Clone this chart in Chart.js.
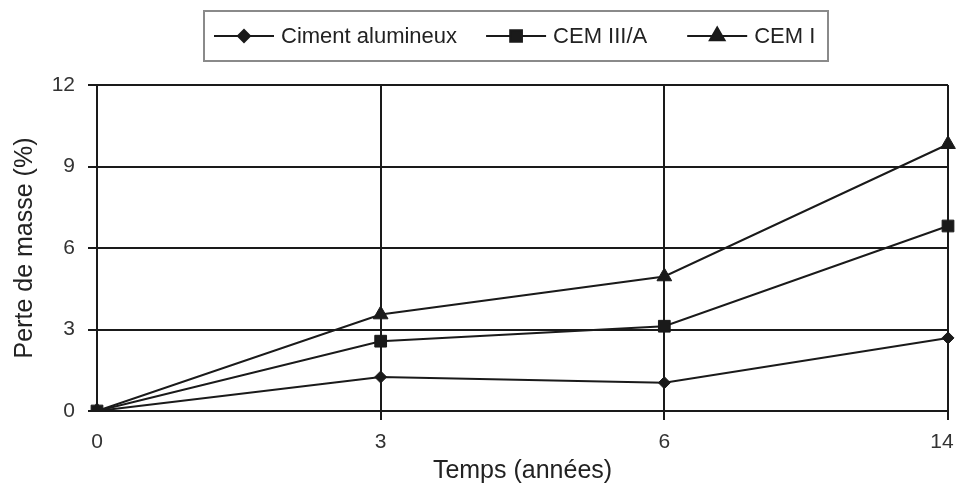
<!DOCTYPE html>
<html>
<head>
<meta charset="utf-8">
<script src="https://cdn.jsdelivr.net/npm/chart.js@4"></script>
<style>
html,body{margin:0;padding:0;background:#fff;}
#wrap{position:relative;width:957px;height:488px;}
</style>
</head>
<body>
<div id="wrap"><canvas id="c" width="957" height="488"></canvas></div>
<script>
const categories = ['0', '3', '6', '14'];
const cimentAlumineux = [0, 1.25, 1.04, 2.69];
const cemIIIA = [0, 2.57, 3.12, 6.81];
const cemI = [0, 3.55, 4.95, 9.82];
const yTicks = [0, 3, 6, 9, 12];
const seriesNames = ['Ciment alumineux', 'CEM III/A', 'CEM I'];
const xTitle = 'Temps (années)';
const yTitle = 'Perte de masse (%)';

const FONT = '"Liberation Sans", Arial, sans-serif';
const INK = '#1a1a1a';

const legendPlugin = {
  id: 'boxLegend',
  afterDraw(chart) {
    const ctx = chart.ctx;
    ctx.save();
    ctx.strokeStyle = '#8a8a8a';
    ctx.lineWidth = 2;
    ctx.strokeRect(204, 11, 624, 50);
    ctx.font = '22px ' + FONT;
    ctx.textBaseline = 'middle';
    let x = 214;
    const y = 36;
    chart.data.datasets.forEach((ds, i) => {
      ctx.strokeStyle = ds.borderColor;
      ctx.fillStyle = ds.borderColor;
      ctx.lineWidth = 2;
      ctx.beginPath();
      ctx.moveTo(x, y);
      ctx.lineTo(x + 60, y);
      ctx.stroke();
      Chart.helpers.drawPoint(ctx, {
        pointStyle: ds.pointStyle,
        radius: ds.pointRadius,
        rotation: 0,
        borderWidth: 1
      }, x + 30, y);
      ctx.fillStyle = '#222';
      ctx.fillText(ds.label, x + 67, y + 1);
      const w = ctx.measureText(ds.label).width;
      x += 67 + w + (i === 0 ? 29 : 40);
    });
    ctx.restore();
  }
};
// keep the last x label inside the canvas (as in the reference)
const shiftLastLabel = {
  id: 'shiftLastLabel',
  beforeDraw(chart) {
    const s = chart.scales.x;
    const items = s.getLabelItems();
    const last = items[items.length - 1];
    if (last && !last._shifted) {
      last.options.translation = [last.options.translation[0] - 6, last.options.translation[1]];
      last._shifted = true;
    }
  }
};
Chart.register(legendPlugin, shiftLastLabel);

const mkDs = (label, data, style, r) => ({
  label, data,
  borderColor: INK,
  backgroundColor: INK,
  borderWidth: 2,
  pointStyle: style,
  pointRadius: r,
  pointHoverRadius: r,
  pointBackgroundColor: INK,
  pointBorderColor: INK,
  pointBorderWidth: 1,
  tension: 0,
  fill: false
});

new Chart(document.getElementById('c'), {
  type: 'line',
  data: {
    labels: categories,
    datasets: [
      mkDs(seriesNames[0], cimentAlumineux, 'rectRot', 6),
      mkDs(seriesNames[1], cemIIIA, 'rect', 8.3),
      mkDs(seriesNames[2], cemI, 'triangle', 8.5)
    ]
  },
  options: {
    responsive: false,
    animation: false,
    devicePixelRatio: 1,
    layout: { autoPadding: false, padding: { top: 85, right: 9, left: 0, bottom: 0 } },
    plugins: { legend: { display: false }, tooltip: { enabled: false } },
    scales: {
      x: {
        type: 'category',
        offset: false,
        grid: {
          color: INK, lineWidth: 2, tickLength: 9,
          tickColor: (c) => (c.index === 0 ? 'rgba(0,0,0,0)' : INK)
        },
        border: { color: INK, width: 2 },
        ticks: { color: '#333', font: { family: FONT, size: 21 }, padding: 10, maxRotation: 0, autoSkip: false },
        title: { display: true, text: xTitle, color: '#222', font: { family: FONT, size: 25 }, padding: { top: 0, bottom: 2 } },
        afterFit: (s) => { s.height = 77; s.paddingLeft = 0; s.paddingRight = 0; }
      },
      y: {
        min: 0, max: 12,
        afterBuildTicks: (s) => { s.ticks = yTicks.map(v => ({ value: v })); },
        grid: { color: INK, lineWidth: 2, tickLength: 9, tickColor: INK },
        border: { color: INK, width: 2 },
        ticks: { color: '#333', font: { family: FONT, size: 21 }, padding: 13 },
        title: { display: true, text: yTitle, color: '#222', font: { family: FONT, size: 25 }, padding: { top: 10, bottom: 0 } },
        afterFit: (s) => { s.width = 97; s.paddingTop = 0; s.paddingBottom = 0; }
      }
    }
  }
});
</script>
</body>
</html>
